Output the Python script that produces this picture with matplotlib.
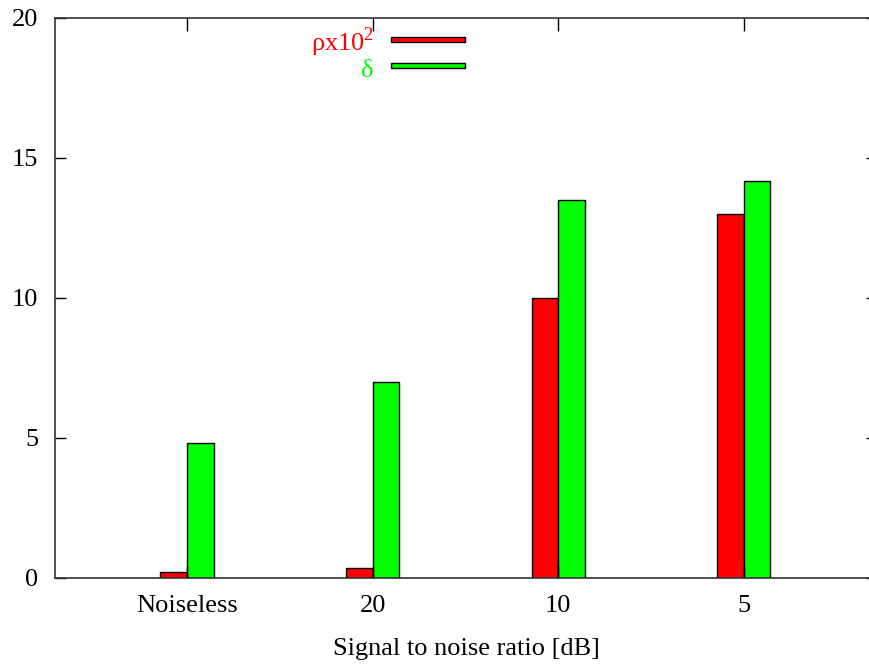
import matplotlib
matplotlib.use("Agg")
import matplotlib.pyplot as plt
from matplotlib.patches import Patch, Rectangle
from matplotlib.legend_handler import HandlerPatch
import numpy as np

# values
categories = ["Noiseless", "20", "10", "5"]
rho_x100 = [0.2, 0.37, 10.0, 13.0]
delta = [4.82, 7.0, 13.5, 14.18]
yticks = [0, 5, 10, 15, 20]

plt.rcParams["font.family"] = ["Liberation Serif", "DejaVu Serif"]
plt.rcParams["mathtext.fontset"] = "custom"
plt.rcParams["mathtext.rm"] = "Liberation Serif"
FS = 19

RED = "#ff0000"
GREEN = "#00ff00"

fig = plt.figure(figsize=(8.7, 6.66), dpi=100)
# right edge of the frame sits just past the image border, as in the reference
ax = fig.add_axes([55 / 870, 88 / 666, 822 / 870, 560 / 666])

x = np.arange(1, len(categories) + 1)
w = 0.143
ax.bar(x - w / 2, rho_x100, w, color=RED, edgecolor="black", linewidth=1)
ax.bar(x + w / 2, delta, w, color=GREEN, edgecolor="black", linewidth=1)

ax.set_xlim(0.289, 4.717)
ax.set_ylim(0, 20)
ax.set_xticks(x)
ax.set_xticklabels(categories)
ax.set_yticks(yticks)

for s in ax.spines.values():
    s.set_linewidth(1.2)
    s.set_color("#333333")

ax.tick_params(axis="y", direction="in", length=8, width=1, pad=12,
               right=True, labelsize=FS)
ax.tick_params(axis="x", direction="in", length=9, width=1, pad=12,
               top=True, labelsize=FS)
ax.set_xlabel("Signal to noise ratio [dB]", fontsize=FS, labelpad=15)


def thin_box(legend, orig_handle, xdescent, ydescent, width, height, fontsize):
    # gnuplot-style key sample: a flat bar, about 4 pt tall
    h = 3.8
    return Rectangle((-xdescent, -ydescent + height / 2 - h / 2 + 1.5), width, h)


handles = [Patch(facecolor=RED, edgecolor="black", linewidth=1),
           Patch(facecolor=GREEN, edgecolor="black", linewidth=1)]
labels = [r"ρx10$^{2}$", "δ"]
ax.legend(handles, labels, loc="upper right",
          bbox_to_anchor=(465 / 870, 1 - 25 / 666), bbox_transform=fig.transFigure,
          frameon=False, markerfirst=False, handlelength=2.8,
          handler_map={Patch: HandlerPatch(patch_func=thin_box)},
          handletextpad=0.65, labelspacing=-0.01, borderpad=0, borderaxespad=0,
          labelcolor=[RED, GREEN], fontsize=FS)

fig.savefig("out.png", dpi=100)
